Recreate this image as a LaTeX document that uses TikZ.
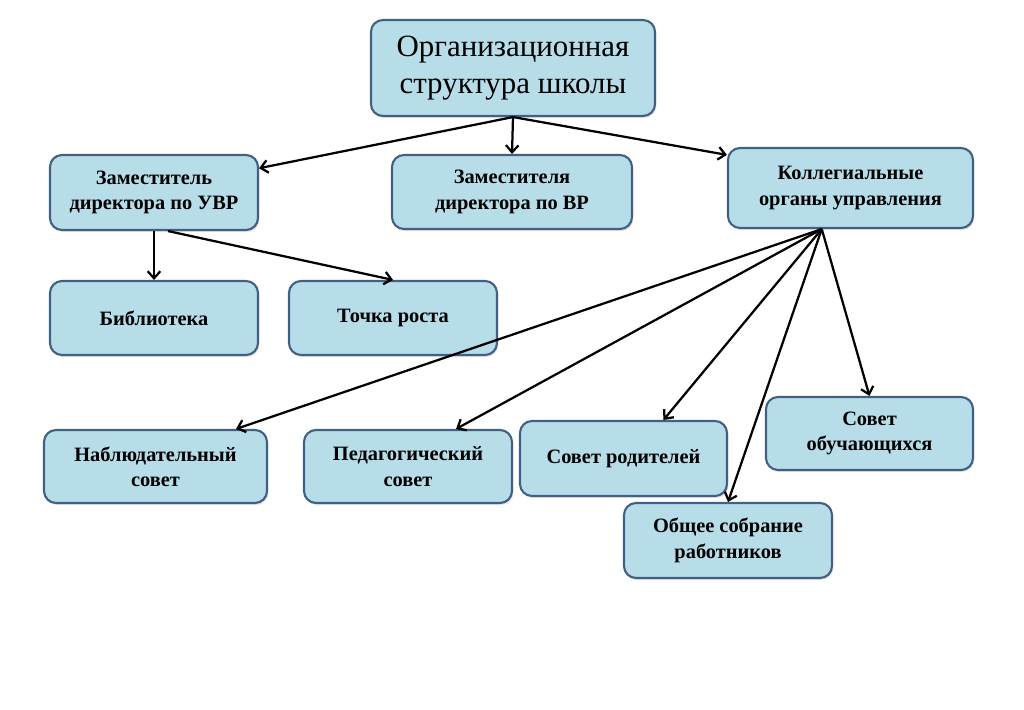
\documentclass[tikz,border=0pt]{standalone}
\usepackage{fontspec}
\setmainfont{Liberation Serif}
\usetikzlibrary{arrows.meta,shadows}
\definecolor{boxfill}{RGB}{183,221,232}
\definecolor{boxline}{RGB}{66,96,132}
\tikzstyle{unit}=[draw=boxline, line width=1.5pt, fill=boxfill, rounded corners=0.3cm, align=center,
 drop shadow={opacity=0.2, shadow xshift=1pt, shadow yshift=-1.5pt},
 font=\fontsize{14.5}{18}\selectfont\bfseries]
\tikzstyle{link}=[-{Straight Barb[length=5pt,width=9pt]}, line width=1.6pt]
\newcommand{\orgbox}[5]{
 \node[unit, minimum width=#3*0.025cm, minimum height=#4*0.025cm] (#1) at #2 {#5};
}

\begin{document}
\begin{tikzpicture}[x=0.025cm, y=-0.025cm]
 \useasboundingbox (0,0) rectangle (1024,709);
%
 \node[unit, minimum width=7.1cm, minimum height=2.4cm, font=\fontsize{22}{26}\selectfont] (top) at (513,68)
  {Организационная\\структура школы};
%
 \orgbox{uvr}{(154,192.5)}{208}{75}{Заместитель\\директора по УВР}
 \orgbox{vr}{(512,192)}{240}{74}{Заместителя\\директора по ВР}
 \orgbox{kol}{(850.5,188)}{245}{80}{Коллегиальные\\органы управления}
%
 \orgbox{bib}{(154,318)}{208}{74}{Библиотека}
 \orgbox{toch}{(393,318)}{208}{74}{Точка роста}
%
 \orgbox{nabl}{(155.5,466.5)}{223}{73}{Наблюдательный\\совет}
 \orgbox{ped}{(408,466.5)}{208}{73}{Педагогический\\совет}
 \orgbox{rod}{(623.5,458.5)}{207}{75}{Совет родителей}
 \orgbox{obsh}{(728,540.5)}{208}{75}{Общее собрание\\работников}
 \orgbox{obuch}{(869.5,433.5)}{207}{73}{Совет\\обучающихся}
%
 \draw[link] (top.south) -- (uvr.13);
 \draw[link] (top.south) -- (vr.north);
 \draw[link] (top.south) -- (kol.165);
 \draw[link] (uvr.south) -- (bib.north);
 \draw[link] (uvr.-70) -- (toch.north);
%
 \coordinate (hub) at (kol.-125);
 \draw[link] (hub) -- (nabl.25);
 \draw[link] (hub) -- (ped.38);
 \draw[link] (hub) -- (rod.44);
 \draw[link] (hub) -- (obsh.north);
 \draw[link] (hub) -- (obuch.north);
\end{tikzpicture}
\end{document}
